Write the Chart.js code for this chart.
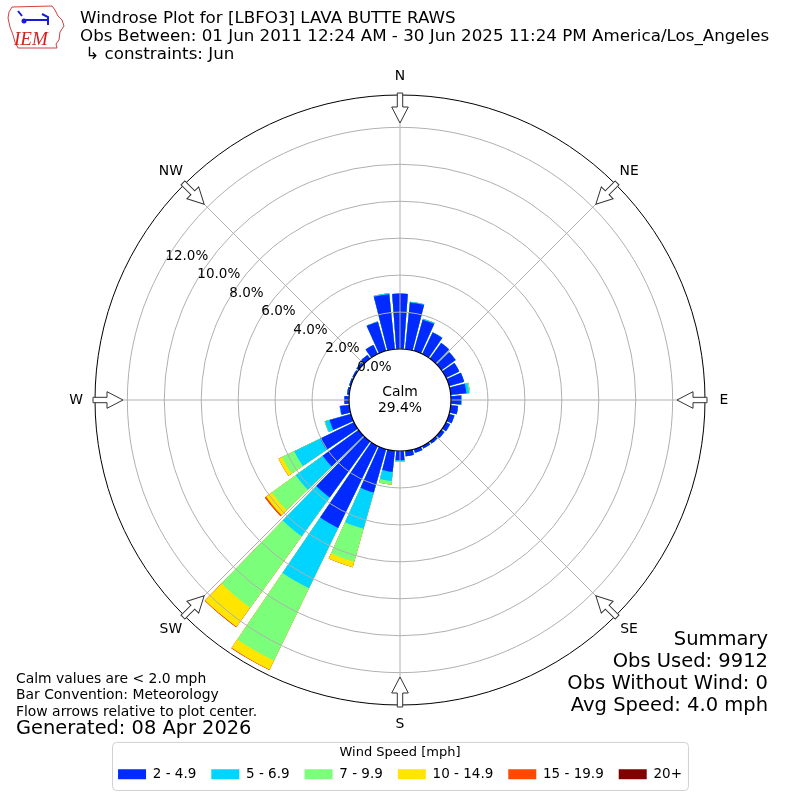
<!DOCTYPE html>
<html>
<head>
<meta charset="utf-8">
<title>Windrose LBFO3</title>
<script src="https://cdn.jsdelivr.net/npm/chart.js@4"></script>
<style>
  html, body { margin: 0; padding: 0; background: #fff; }
  #wrap { width: 800px; height: 800px; }
</style>
</head>
<body>
<div id="wrap"><canvas id="rose" width="800" height="800"></canvas></div>
<script>
// wind directions (deg, where the wind blows from)
const directions = [0, 10, 20, 30, 40, 50, 60, 70, 80, 90, 100, 110, 120, 130, 140, 150, 160, 170,
                    180, 190, 200, 210, 220, 230, 240, 250, 260, 270, 280, 290, 300, 310, 320, 330, 340, 350];

const speedBins = ['2 - 4.9', '5 - 6.9', '7 - 9.9', '10 - 14.9', '15 - 19.9', '20+'];
const binColors = ['#002aff', '#00d4ff', '#7bff7b', '#ffe500', '#ff4900', '#800000'];

// frequency (% of obs) per direction, one array per speed bin
const freq2to5 = [3.0, 2.55, 1.75, 1.3, 1.05, 0.95, 0.8, 0.85, 0.85, 0.55, 0.4, 0.3, 0.25, 0.2, 0.15, 0.15, 0.2, 0.3,
                  0.5, 1.15, 2.45, 4.93, 3.74, 2.4, 2.03, 1.2, 0.5, 0.25, 0.12, 0.1, 0.1, 0.15, 0.25, 0.55, 1.63, 3.0];
const freq5to7 = [0, 0.03, 0.06, 0.02, 0, 0, 0, 0, 0.15, 0.03, 0, 0, 0, 0, 0, 0, 0, 0,
                  0.07, 0.5, 2.04, 3.63, 2.6, 1.8, 1.57, 0.26, 0.02, 0, 0, 0, 0, 0, 0, 0, 0.02, 0.05];
const freq7to10 = [0, 0, 0, 0, 0, 0, 0, 0, 0.05, 0, 0, 0, 0, 0, 0, 0, 0, 0,
                   0.03, 0.2, 1.85, 4.35, 4.76, 1.6, 0.73, 0.02, 0, 0, 0, 0, 0, 0, 0, 0, 0, 0];
const freq10to15 = [0, 0, 0, 0, 0, 0, 0, 0, 0, 0, 0, 0, 0, 0, 0, 0, 0, 0,
                    0, 0, 0.31, 0.55, 1.27, 0.38, 0.21, 0, 0, 0, 0, 0, 0, 0, 0, 0, 0, 0];
const freq15to20 = [0, 0, 0, 0, 0, 0, 0, 0, 0, 0, 0, 0, 0, 0, 0, 0, 0, 0,
                    0, 0, 0, 0.02, 0.03, 0.08, 0, 0, 0, 0, 0, 0, 0, 0, 0, 0, 0, 0];
const freq20up = [0, 0, 0, 0, 0, 0, 0, 0, 0, 0, 0, 0, 0, 0, 0, 0, 0, 0,
                  0, 0, 0, 0, 0, 0, 0, 0, 0, 0, 0, 0, 0, 0, 0, 0, 0, 0];

const tickValues = [0, 2, 4, 6, 8, 10, 12];
const compassLabels = ['N', 'NE', 'E', 'SE', 'S', 'SW', 'W', 'NW'];
const calmPct = 29.4;

const headerLines = ['Windrose Plot for [LBFO3] LAVA BUTTE RAWS',
                     'Obs Between: 01 Jun 2011 12:24 AM - 30 Jun 2025 11:24 PM America/Los_Angeles',
                     ' \u21b3 constraints: Jun'];
const noteLines = ['Calm values are < 2.0 mph', 'Bar Convention: Meteorology', 'Flow arrows relative to plot center.'];
const generatedText = 'Generated: 08 Apr 2026';
const summaryLines = ['Summary', 'Obs Used: 9912', 'Obs Without Wind: 0', 'Avg Speed: 4.0 mph'];

const FONT = 'DejaVu Sans';
const rMin = -2.76, rMax = 13.75;   // radial axis range, 0 sits on the calm circle
const BAR = 8.4, GAP = 1.6;         // degrees per sector

Chart.defaults.font.family = FONT;
Chart.defaults.color = '#000';

// stack the bins: each dataset holds the running total, smaller ones drawn on top
const binValues = [freq2to5, freq5to7, freq7to10, freq10to15, freq15to20, freq20up];
const cumulative = [];
binValues.forEach((arr, k) => {
    cumulative.push(arr.map((v, i) => v + (k ? cumulative[k - 1][i] : 0)));
});

// N sector is split in two halves so the sectors stay centred on their direction
function toSlots(arr) {
    const out = [arr[0]];
    for (let i = 1; i < arr.length; i++) out.push(0, arr[i]);
    out.push(0, arr[0]);
    return out;
}
const slotCount = directions.length * 2 + 1;
function slotAngle(i) {
    if (i === 0 || i === slotCount - 1) return BAR / 2;
    return i % 2 ? GAP : BAR;
}

const datasets = speedBins.map((label, k) => ({
    label: label,
    data: toSlots(cumulative[k]),
    backgroundColor: c => (c.dataIndex % 2 ? 'rgba(0,0,0,0)' : binColors[k]),
    borderWidth: 0,
    angle: c => slotAngle(c.dataIndex)
}));

function drawArrow(ctx, cx, cy, ang, R) {
    ctx.save();
    ctx.translate(cx, cy);
    ctx.rotate(ang);
    const t = -(R + 2), b = -(R - 12), tip = -(R - 28);
    ctx.beginPath();
    ctx.moveTo(-2.7, t); ctx.lineTo(2.7, t); ctx.lineTo(2.7, b); ctx.lineTo(8.3, b);
    ctx.lineTo(0, tip); ctx.lineTo(-8.3, b); ctx.lineTo(-2.7, b); ctx.closePath();
    ctx.fillStyle = '#fff';
    ctx.fill();
    ctx.strokeStyle = '#333';
    ctx.lineWidth = 1;
    ctx.stroke();
    ctx.restore();
}

function drawLogo(ctx) {
    ctx.save();
    ctx.beginPath();
    const pts = [[12, 7], [52, 6], [55, 10], [58, 16], [62, 20], [64, 26], [60, 32], [59, 40], [56, 44],
                 [57, 48], [18, 48], [15, 42], [13, 35], [10, 27], [8, 18], [9, 12]];
    pts.forEach((p, i) => (i ? ctx.lineTo(p[0], p[1]) : ctx.moveTo(p[0], p[1])));
    ctx.closePath();
    ctx.fillStyle = '#fff';
    ctx.fill();
    ctx.strokeStyle = '#d04040';
    ctx.lineWidth = 1;
    ctx.stroke();
    ctx.strokeStyle = '#1a1adc';
    ctx.fillStyle = '#1a1adc';
    ctx.lineWidth = 2;
    ctx.beginPath();
    ctx.moveTo(24, 20); ctx.lineTo(47, 20);
    ctx.moveTo(18, 11); ctx.lineTo(22, 16);
    ctx.moveTo(42, 14); ctx.lineTo(48, 17); ctx.lineTo(48, 25);
    ctx.stroke();
    ctx.beginPath();
    ctx.arc(24, 21, 2.5, 0, Math.PI * 2);
    ctx.fill();
    ctx.fillStyle = '#d02020';
    ctx.font = 'italic 19px "Liberation Serif", serif';
    ctx.textAlign = 'left';
    ctx.textBaseline = 'alphabetic';
    ctx.fillText('IEM', 14, 45);
    ctx.restore();
}

const roseDecor = {
    id: 'roseDecor',
    afterDraw(chart) {
        const ctx = chart.ctx;
        const s = chart.scales.r;
        const xc = s.xCenter, yc = s.yCenter, R = s.drawingArea;
        const calmR = s.getDistanceFromCenterForValue(0);

        ctx.save();
        // calm circle
        ctx.beginPath();
        ctx.arc(xc, yc, calmR, 0, Math.PI * 2);
        ctx.fillStyle = '#fff';
        ctx.fill();
        ctx.strokeStyle = '#000';
        ctx.lineWidth = 1.2;
        ctx.stroke();
        ctx.fillStyle = '#000';
        ctx.font = '13.9px "' + FONT + '"';
        ctx.textAlign = 'center';
        ctx.textBaseline = 'middle';
        ctx.fillText('Calm', xc, yc - 8);
        ctx.fillText(calmPct.toFixed(1) + '%', xc, yc + 8);

        // flow arrows and compass labels
        compassLabels.forEach((lab, i) => {
            drawArrow(ctx, xc, yc, s.getIndexAngle(i), R);
            const p = s.getPointPosition(i, R + 19);
            ctx.fillStyle = '#000';
            ctx.fillText(lab, p.x, p.y);
        });

        // radial tick labels along the 300 deg line
        const a = 300 * Math.PI / 180;
        ctx.font = '13.5px "' + FONT + '"';
        ctx.textAlign = 'left';
        ctx.textBaseline = 'bottom';
        tickValues.forEach(v => {
            const d = s.getDistanceFromCenterForValue(v);
            ctx.fillText(v.toFixed(1) + '%', xc + d * Math.sin(a) + 1.5, yc - d * Math.cos(a) - 0.5);
        });

        // header
        drawLogo(ctx);
        ctx.fillStyle = '#000';
        ctx.textBaseline = 'middle';
        ctx.font = '16.7px "' + FONT + '"';
        headerLines.forEach((t, i) => ctx.fillText(t, 80, 19 + i * 18));

        // notes bottom left
        ctx.font = '13.9px "' + FONT + '"';
        noteLines.forEach((t, i) => ctx.fillText(t, 16, 679 + i * 16.5));
        ctx.font = '19.4px "' + FONT + '"';
        ctx.fillText(generatedText, 16, 729);

        // summary bottom right
        ctx.textAlign = 'right';
        ctx.font = '19.5px "' + FONT + '"';
        summaryLines.forEach((t, i) => ctx.fillText(t, 768, 640 + i * 22));

        // legend frame
        const lg = chart.legend;
        if (lg && lg.legendHitBoxes && lg.legendHitBoxes.length) {
            const hb = lg.legendHitBoxes;
            const left = Math.min(...hb.map(h => h.left)) - 6;
            const right = Math.max(...hb.map(h => h.left + h.width)) + 6;
            const top = lg.top + 1.5, bottom = lg.bottom - 0.5;
            ctx.beginPath();
            ctx.roundRect(left + 0.5, top, right - left, bottom - top, 4);
            ctx.strokeStyle = '#d0d0d0';
            ctx.lineWidth = 1;
            ctx.stroke();
        }
        ctx.restore();
    }
};

new Chart(document.getElementById('rose'), {
    type: 'polarArea',
    data: { labels: compassLabels, datasets: datasets },
    options: {
        responsive: false,
        animation: false,
        events: [],
        layout: { padding: { top: 60, bottom: 9, left: 95, right: 95 } },
        scales: {
            r: {
                min: rMin,
                max: rMax,
                startAngle: 0,
                afterBuildTicks: sc => { sc.ticks = tickValues.concat([rMax]).map(v => ({ value: v })); },
                ticks: { display: false },
                grid: {
                    circular: true,
                    z: 1,
                    lineWidth: 1,
                    color: c => (c.tick && c.tick.value === rMax ? '#000' : '#b0b0b0')
                },
                angleLines: { display: true, color: '#b0b0b0', lineWidth: 1 },
                pointLabels: { display: false }
            }
        },
        plugins: {
            tooltip: { enabled: false },
            legend: {
                position: 'bottom',
                onClick: null,
                title: {
                    display: true,
                    text: 'Wind Speed [mph]',
                    color: '#000',
                    font: { size: 13 },
                    padding: { top: 5, bottom: -9 }
                },
                labels: {
                    boxWidth: 28,
                    boxHeight: 10,
                    padding: 15,
                    color: '#000',
                    font: { size: 13.5 },
                    generateLabels: () => speedBins.map((t, k) => ({
                        text: t,
                        fillStyle: binColors[k],
                        strokeStyle: binColors[k],
                        lineWidth: 0,
                        hidden: false,
                        datasetIndex: k
                    }))
                }
            }
        }
    },
    plugins: [roseDecor]
});
</script>
</body>
</html>
